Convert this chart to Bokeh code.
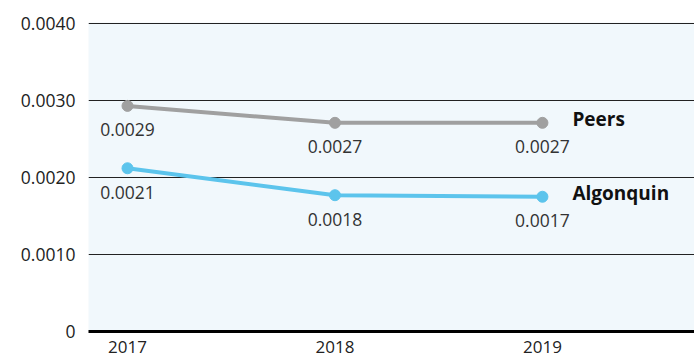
from bokeh.plotting import figure
from bokeh.models import ColumnDataSource, Range1d, FixedTicker
from bokeh.core.properties import value
from bokeh.embed import file_html
from bokeh.resources import INLINE

years = [2017, 2018, 2019]
peers = [0.0029, 0.0027, 0.0027]
algonquin = [0.0021, 0.0018, 0.0017]
peers_plot = [0.00293, 0.00271, 0.00271]
algonquin_plot = [0.00212, 0.00177, 0.00175]
peers_labels = ["0.0029", "0.0027", "0.0027"]
algonquin_labels = ["0.0021", "0.0018", "0.0017"]
series_names = ["Peers", "Algonquin"]
y_ticks = [0, 0.001, 0.002, 0.003, 0.004]
y_tick_labels = ["0", "0.0010", "0.0020", "0.0030", "0.0040"]

FONT = "Open Sans"
GRAY = "#a0a0a0"
BLUE = "#5cc4ec"

p = figure(width=694, height=358, output_backend="svg", toolbar_location=None,
           x_range=Range1d(2016.812, 2019.733), y_range=Range1d(0, 0.004013),
           min_border_left=88, min_border_right=0, min_border_top=22, min_border_bottom=27)
p.background_fill_color = "#f1f8fc"
p.border_fill_color = "white"
p.outline_line_color = None

src_p = ColumnDataSource(dict(x=years, y=peers_plot, lab=peers_labels))
src_a = ColumnDataSource(dict(x=years, y=algonquin_plot, lab=algonquin_labels))

p.line("x", "y", source=src_p, line_color=GRAY, line_width=4)
p.scatter("x", "y", source=src_p, size=11, fill_color=GRAY, line_color=GRAY)
p.line("x", "y", source=src_a, line_color=BLUE, line_width=4)
p.scatter("x", "y", source=src_a, size=11, fill_color=BLUE, line_color=BLUE)

p.text("x", "y", text="lab", source=src_p, y_offset=24, text_align="center",
       text_baseline="middle", text_font=value(FONT), text_font_size="17.5px", text_color="#333333")
p.text("x", "y", text="lab", source=src_a, y_offset=24, text_align="center",
       text_baseline="middle", text_font=value(FONT), text_font_size="17.5px", text_color="#333333")

name_src = ColumnDataSource(dict(x=[years[-1], years[-1]], y=[peers_plot[-1], algonquin_plot[-1]], t=series_names))
p.text("x", "y", text="t", source=name_src, x_offset=30, y_offset=-4, text_align="left",
       text_baseline="middle", text_font=value(FONT), text_font_size="19px",
       text_font_style="bold", text_color="#111111")

p.xgrid.grid_line_color = None
p.ygrid.ticker = FixedTicker(ticks=y_ticks)
p.ygrid.grid_line_color = "#222222"
p.ygrid.grid_line_width = 1

p.yaxis.ticker = FixedTicker(ticks=y_ticks)
p.yaxis.major_label_overrides = {t: l for t, l in zip(y_ticks, y_tick_labels)}
p.yaxis.axis_line_color = None
p.yaxis.major_tick_line_color = None
p.yaxis.minor_tick_line_color = None
p.yaxis.major_label_standoff = 7
p.yaxis.major_label_text_font = FONT
p.yaxis.major_label_text_font_size = "17.5px"
p.yaxis.major_label_text_color = "#222222"

p.xaxis.ticker = FixedTicker(ticks=years)
p.xaxis.major_label_overrides = {y: str(y) for y in years}
p.xaxis.axis_line_color = "black"
p.xaxis.axis_line_width = 3
p.xaxis.major_tick_line_color = None
p.xaxis.minor_tick_line_color = None
p.xaxis.major_label_standoff = 3
p.xaxis.major_label_text_font = FONT
p.xaxis.major_label_text_font_size = "17px"
p.xaxis.major_label_text_color = "#222222"

open("out.html", "w").write(file_html(p, INLINE))
